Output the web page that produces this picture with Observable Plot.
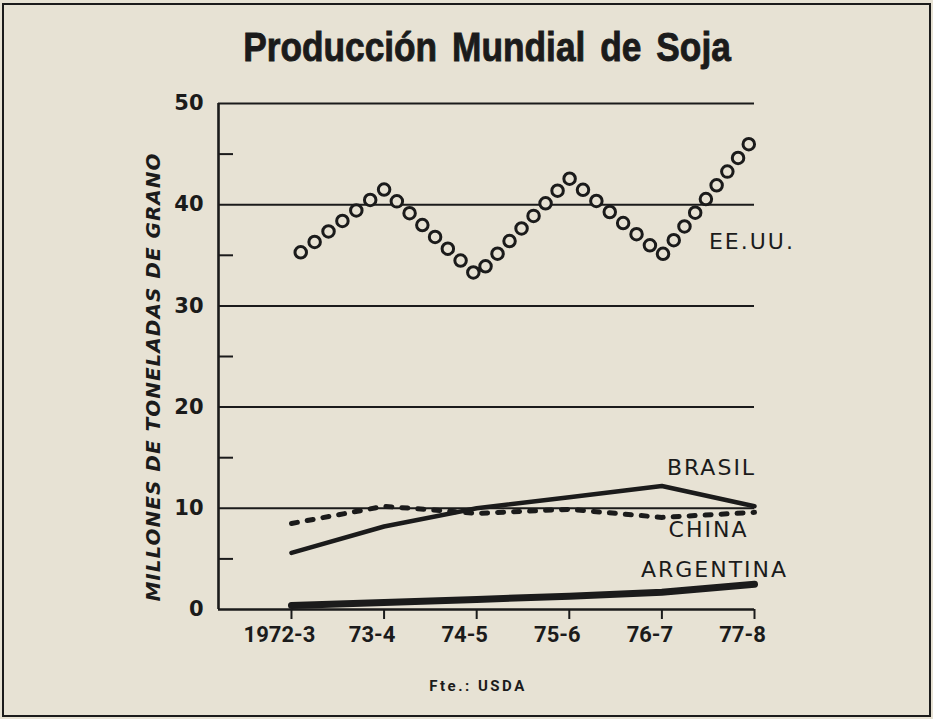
<!DOCTYPE html>
<html>
<head>
<meta charset="utf-8">
<script src="https://cdn.jsdelivr.net/npm/d3@7"></script>
<script src="https://cdn.jsdelivr.net/npm/@observablehq/plot@0.6"></script>
<style>
  body { margin: 0; background: #e7e2d4; }
  #wrap { position: relative; width: 933px; height: 719px; background: #e7e2d4; overflow: hidden; color: #1b1b1b; }
  #border { position: absolute; left: 2px; top: 3px; width: 925px; height: 710px; border: 2px solid #1b1b1b; }
  #title { position: absolute; left: 487px; top: 27px; transform: translateX(-50%) scaleX(0.86); white-space: nowrap;
           font: bold 41px/41px "Liberation Sans", sans-serif; word-spacing: 6px; -webkit-text-stroke: 0.9px #1b1b1b; }
  #ytitle { position: absolute; left: 153px; top: 377px; transform: translate(-50%, -50%) rotate(-90deg); white-space: nowrap;
            font: italic bold 20px "DejaVu Sans", sans-serif; letter-spacing: 1px; }
  #plot { position: absolute; left: 0; top: 80px; }
  #caption { position: absolute; top: 677px; left: 478px; transform: translateX(-50%); white-space: nowrap;
             font: bold 15px Roboto, sans-serif; letter-spacing: 2.5px; }
  #plot svg [aria-label="y-axis tick label"] text { font-family: "DejaVu Sans", sans-serif; font-weight: bold; font-size: 21px; }
  #plot svg [aria-label="x-axis tick label"] text { font-family: Roboto, sans-serif; font-weight: bold; font-size: 22px; }
  #plot svg [aria-label="text"] text { font-family: "DejaVu Sans", sans-serif; font-size: 22px; letter-spacing: 2px; }
</style>
</head>
<body>
<div id="wrap">
  <div id="border"></div>
  <div id="title">Producción Mundial de Soja</div>
  <div id="ytitle">MILLONES DE TONELADAS DE GRANO</div>
  <div id="plot"></div>
  <div id="caption">Fte.: USDA</div>
</div>
<script>
// ---- data ----
const periods = ["1972-3", "73-4", "74-5", "75-6", "76-7", "77-8"];
const eeuu = [34.6, 41.5, 33.0, 42.6, 35.0, 46.7];
const brasil = [5.6, 8.2, 10.0, 11.1, 12.2, 10.2];
const china = [8.5, 10.2, 9.5, 9.9, 9.1, 9.6];
const argentina = [0.4, 0.7, 1.0, 1.3, 1.7, 2.5];
const yTicks = [0, 10, 20, 30, 40, 50];
const yMinorTicks = [5, 15, 25, 35, 45];
const gridLines = [10, 20, 30, 40, 50];
const seriesLabels = ["EE.UU.", "BRASIL", "CHINA", "ARGENTINA"];

// ---- build ----
const ink = "#1b1b1b";
const paper = "#e7e2d4";
const rows = vals => vals.map((v, i) => ({i, v}));
const rEEUU = rows(eeuu), rBrasil = rows(brasil), rChina = rows(china), rArg = rows(argentina);
const xMin = -0.788;

const chart = Plot.plot({
  width: 933,
  height: 580,
  marginLeft: 218,
  marginRight: 179,
  marginTop: 23,
  marginBottom: 51,
  style: {background: "transparent", color: ink, overflow: "visible"},
  x: {domain: [xMin, periods.length - 1]},
  y: {domain: [0, 50]},
  marks: [
    Plot.ruleY(gridLines, {stroke: ink, strokeWidth: 2}),
    Plot.ruleY([0], {stroke: ink, strokeWidth: 2.6}),
    Plot.ruleX([xMin], {stroke: ink, strokeWidth: 2.6}),
    Plot.axisY({ticks: yTicks, tickSize: 0, tickPadding: 15, label: null, fill: ink}),
    Plot.axisY({ticks: yMinorTicks, tickSize: -15, tickFormat: () => "", label: null, stroke: ink, strokeWidth: 2}),
    Plot.axisX({ticks: d3.range(periods.length), tickSize: 10, tickPadding: 0, tickFormat: () => "", label: null, stroke: ink, strokeWidth: 2}),
    Plot.axisX({ticks: d3.range(periods.length), tickSize: 0, tickPadding: 17, dx: -12, tickFormat: i => periods[i], label: null, fill: ink}),
    // Argentina
    Plot.line(rArg, {x: "i", y: "v", stroke: ink, strokeWidth: 7}),
    // Brasil
    Plot.line(rBrasil, {x: "i", y: "v", stroke: ink, strokeWidth: 4.5, strokeLinecap: "round"}),
    // China (dashed)
    Plot.line(rChina, {x: "i", y: "v", stroke: ink, strokeWidth: 5, strokeDasharray: "6 10", strokeLinecap: "round"}),
    // EE.UU. (ring markers)
    Plot.line(rEEUU, {x: "i", y: "v", stroke: ink, strokeWidth: 14.5, strokeDasharray: "0 17.4", strokeDashoffset: 5.8, strokeLinecap: "round"}),
    Plot.line(rEEUU, {x: "i", y: "v", stroke: paper, strokeWidth: 8.5, strokeDasharray: "0 17.4", strokeDashoffset: 5.8, strokeLinecap: "round"}),
    // labels
    Plot.text([rEEUU[4]], {x: "i", y: "v", text: () => seriesLabels[0], textAnchor: "start", dx: 47, dy: -13, fill: ink}),
    Plot.text([rBrasil[5]], {x: "i", y: "v", text: () => seriesLabels[1], dx: -43, dy: -38, fill: ink}),
    Plot.text([rChina[5]], {x: "i", y: "v", text: () => seriesLabels[2], dx: -46, dy: 18, fill: ink}),
    Plot.text([rArg[5]], {x: "i", y: "v", text: () => seriesLabels[3], dx: -40, dy: -14, fill: ink})
  ]
});
document.getElementById("plot").appendChild(chart);
</script>
</body>
</html>
